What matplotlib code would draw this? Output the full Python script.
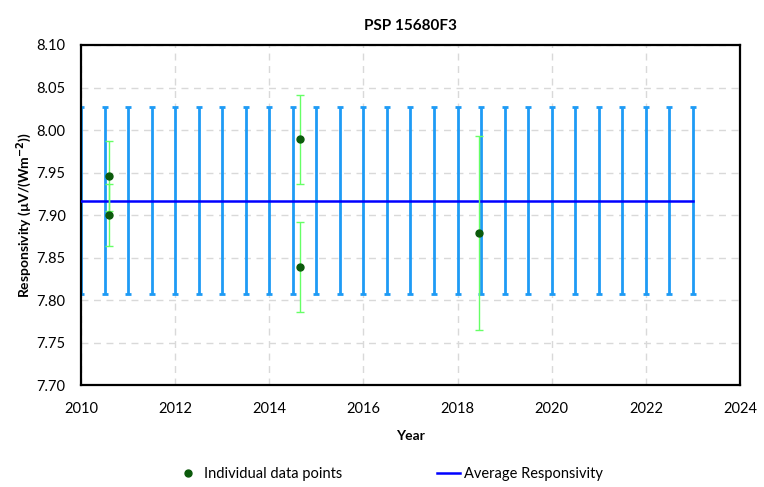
import numpy as np
import matplotlib
matplotlib.use('Agg')
import matplotlib.pyplot as plt

plt.rcParams['font.family'] = ['Lato', 'DejaVu Sans']

# average responsivity band (drawn every half year)
band_years = np.arange(2010.0, 2023.01, 0.5)
avg_resp = 7.917
avg_unc = 0.110

# individual calibrations
pt_years = [2010.6, 2010.6, 2014.65, 2014.65, 2018.45]
pt_resp = [7.946, 7.900, 7.989, 7.839, 7.879]
pt_unc = [0.041, 0.036, 0.052, 0.053, 0.114]

fig = plt.figure(figsize=(7.64, 4.87), dpi=100)
ax = fig.add_axes([0.106, 0.2094, 0.8626, 0.6982])

ax.errorbar(band_years, [avg_resp]*len(band_years), yerr=avg_unc, fmt='none',
            ecolor='#1E9BF5', elinewidth=2, capsize=2.5, capthick=2, zorder=2)
ax.plot([band_years[0], band_years[-1]], [avg_resp, avg_resp], color='#0000FF', lw=1.8,
        label='Average Responsivity', zorder=3)
ax.errorbar(pt_years, pt_resp, yerr=pt_unc, fmt='none', ecolor='#66FF66',
            elinewidth=1, capsize=3, capthick=1, zorder=4)
ax.plot(pt_years, pt_resp, 'o', color='#0B5A0B', ms=5, ls='none',
        label='Individual data points', zorder=5)

ax.set_xlim(2010, 2024)
ax.set_ylim(7.70, 8.10)
ax.set_xticks(np.arange(2010, 2025, 2))
yt = np.arange(7.70, 8.101, 0.05)
ax.set_yticks(yt)
ax.set_yticklabels([f'{v:.2f}' for v in yt])
ax.tick_params(axis='x', labelsize=10.5, length=0, pad=12)
ax.tick_params(axis='y', labelsize=10.5, length=0, pad=11)
ax.grid(True, ls=(0, (5, 4)), color='#D9D9D9', lw=1)
ax.set_axisbelow(True)
for s in ax.spines.values():
    s.set_linewidth(1.6)
    s.set_color('black')

ax.set_title('PSP 15680F3', fontsize=11, fontweight='bold', pad=11)
ax.set_xlabel('Year', fontsize=10, fontweight='bold', labelpad=10)
ax.set_ylabel('Responsivity (µV/(Wm$^{\\mathbf{-2}}$))', fontsize=10, fontweight='bold', labelpad=2)

h, l = ax.get_legend_handles_labels()
fig.legend([h[1], h[0]], [l[1], l[0]], loc='center', bbox_to_anchor=(0.51, 0.027),
           ncol=2, frameon=False, fontsize=10.5, handlelength=1.6, handletextpad=0.3,
           columnspacing=6.5)

fig.savefig('out.png', dpi=100)
